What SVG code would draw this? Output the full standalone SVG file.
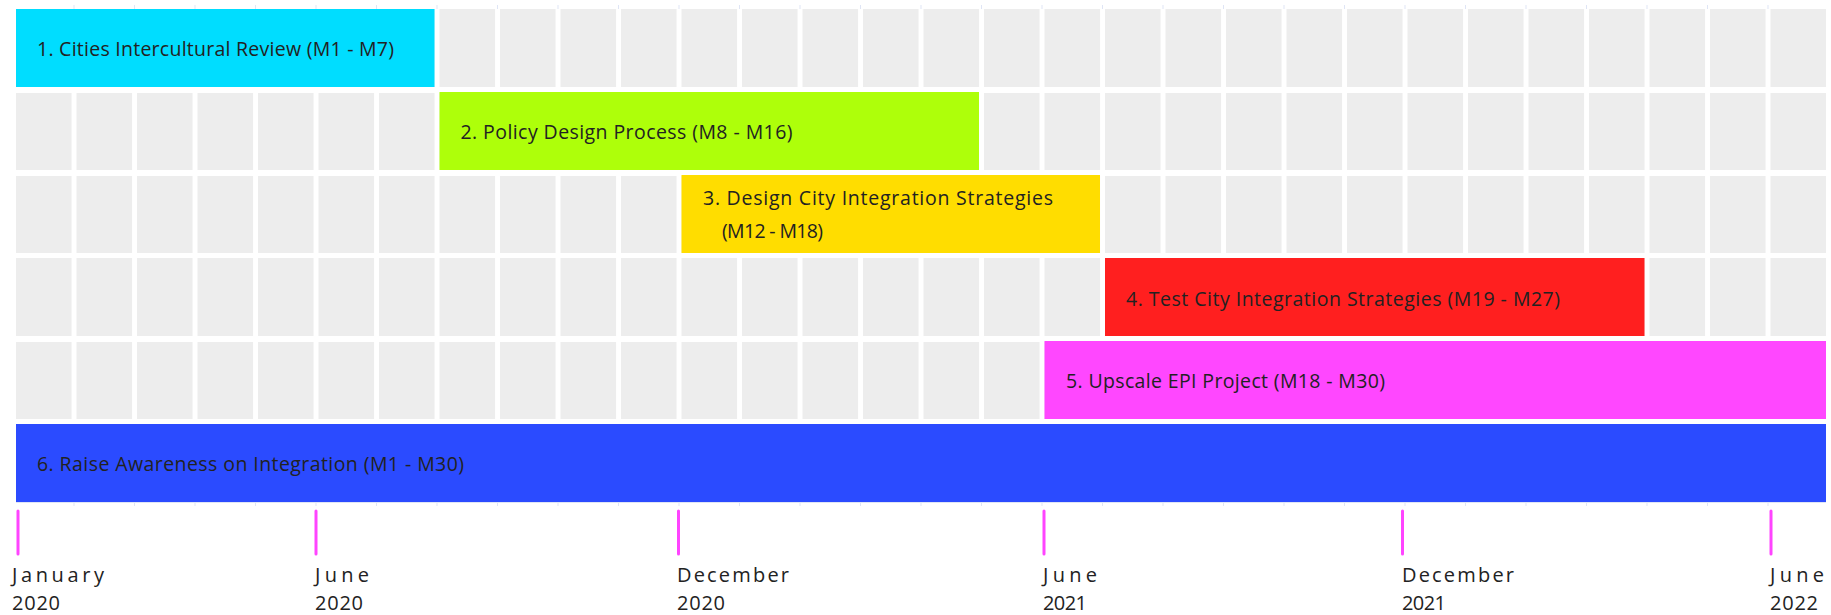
<svg xmlns="http://www.w3.org/2000/svg" width="1831" height="615" viewBox="0 0 1831 615">
  <style>
    .lbl { font-family: "Open Sans", "Noto Sans", "Liberation Sans", sans-serif; font-size: 19.5px; font-weight: 500; fill: #222222; }
    .date { font-family: "Open Sans", "Noto Sans", "Liberation Sans", sans-serif; font-size: 20px; fill: #222222; }
    .tick { stroke: #ff44ff; stroke-width: 3; stroke-linecap: round; }
    .faint { stroke: #dfe5f5; stroke-width: 1; }
  </style>
  <defs>
    <pattern id="cells" patternUnits="userSpaceOnUse" x="16" y="9" width="60.5" height="83">
      <rect x="0" y="0" width="55.5" height="78" fill="#ededed"/>
    </pattern>
  </defs>
  <rect x="0" y="0" width="1831" height="615" fill="#ffffff"/>

  <g id="grid">
    <rect x="16" y="9" width="1810" height="410" fill="url(#cells)"/>
    <path class="faint" d="M74 5V9M134.5 5V9M195 5V9M255.5 5V9M316 5V9M376.5 5V9M437 5V9M497.5 5V9M558 5V9M618.5 5V9M679 5V9M739.5 5V9M800 5V9M860.5 5V9M921 5V9M981.5 5V9M1042 5V9M1102.5 5V9M1163 5V9M1223.5 5V9M1284 5V9M1344.5 5V9M1405 5V9M1465.5 5V9M1526 5V9M1586.5 5V9M1647 5V9M1707.5 5V9M1768 5V9"/>
    <path class="faint" d="M16 502.5H1826M74 502V506M134.5 502V506M195 502V506M255.5 502V506M316 502V506M376.5 502V506M437 502V506M497.5 502V506M558 502V506M618.5 502V506M679 502V506M739.5 502V506M800 502V506M860.5 502V506M921 502V506M981.5 502V506M1042 502V506M1102.5 502V506M1163 502V506M1223.5 502V506M1284 502V506M1344.5 502V506M1405 502V506M1465.5 502V506M1526 502V506M1586.5 502V506M1647 502V506M1707.5 502V506M1768 502V506"/>
  </g>

  <g id="task1">
    <rect x="16" y="9" width="418.5" height="78" fill="#00ddff"/>
    <text class="lbl" x="37" y="56" textLength="357">1. Cities Intercultural Review (M1 - M7)</text>
  </g>
  <g id="task2">
    <rect x="439.5" y="92" width="539.5" height="78" fill="#aeff0a"/>
    <text class="lbl" x="460.5" y="139" textLength="332">2. Policy Design Process (M8 - M16)</text>
  </g>
  <g id="task3">
    <rect x="681.5" y="175" width="418.5" height="78" fill="#ffdd00"/>
    <text class="lbl"><tspan x="703" y="205" textLength="350">3. Design City Integration Strategies</tspan><tspan x="722" y="238" textLength="101">(M12 - M18)</tspan></text>
  </g>
  <g id="task4">
    <rect x="1105" y="258" width="539.5" height="78" fill="#ff1f1f"/>
    <text class="lbl" x="1126" y="306" textLength="434">4. Test City Integration Strategies (M19 - M27)</text>
  </g>
  <g id="task5">
    <rect x="1044.5" y="341" width="781.5" height="78" fill="#ff47ff"/>
    <text class="lbl" x="1066" y="388" textLength="319">5. Upscale EPI Project (M18 - M30)</text>
  </g>
  <g id="task6">
    <rect x="16" y="424" width="1810" height="78" fill="#2b4bff"/>
    <text class="lbl" x="37" y="471" textLength="427">6. Raise Awareness on Integration (M1 - M30)</text>
  </g>

  <g id="timeline">
    <line class="tick" x1="18" y1="511" x2="18" y2="554"/>
    <line class="tick" x1="316" y1="511" x2="316" y2="554"/>
    <line class="tick" x1="678.5" y1="511" x2="678.5" y2="554"/>
    <line class="tick" x1="1044" y1="511" x2="1044" y2="554"/>
    <line class="tick" x1="1402.5" y1="511" x2="1402.5" y2="554"/>
    <line class="tick" x1="1771" y1="511" x2="1771" y2="554"/>
  </g>

  <g id="dates">
    <text class="date"><tspan x="12" y="582" textLength="92">January</tspan><tspan x="12" y="609.5" textLength="48">2020</tspan></text>
    <text class="date"><tspan x="315" y="582" textLength="54">June</tspan><tspan x="315" y="609.5" textLength="48">2020</tspan></text>
    <text class="date"><tspan x="677" y="582" textLength="112">December</tspan><tspan x="677" y="609.5" textLength="48">2020</tspan></text>
    <text class="date"><tspan x="1043" y="582" textLength="54">June</tspan><tspan x="1043" y="609.5" textLength="44">2021</tspan></text>
    <text class="date"><tspan x="1402" y="582" textLength="112">December</tspan><tspan x="1402" y="609.5" textLength="44">2021</tspan></text>
    <text class="date"><tspan x="1770" y="582" textLength="54">June</tspan><tspan x="1770" y="609.5" textLength="48">2022</tspan></text>
  </g>
</svg>
